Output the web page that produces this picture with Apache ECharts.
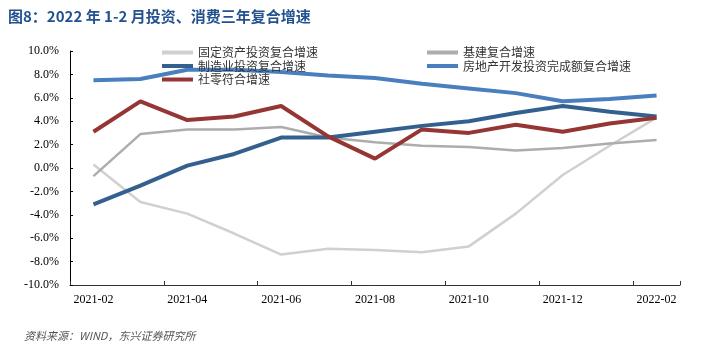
<!DOCTYPE html>
<html>
<head>
<meta charset="utf-8">
<script src="https://cdn.jsdelivr.net/npm/echarts@6/dist/echarts.min.js"></script>
<style>
  html, body { margin: 0; padding: 0; background: #fff; }
  #chart { width: 707px; height: 354px; }
</style>
</head>
<body>
<div id="chart"></div>
<script>
// 月份
const months = ['2021-02', '2021-03', '2021-04', '2021-05', '2021-06', '2021-07', '2021-08',
  '2021-09', '2021-10', '2021-11', '2021-12', '2022-01', '2022-02']
// 各项三年复合增速（%）
const fixedAsset = [0.3, -2.9, -3.9, -5.6, -7.4, -6.9, -7.0, -7.2, -6.7, -3.9, -0.6, 1.9, 4.3]
const infra = [-0.7, 2.9, 3.3, 3.3, 3.5, 2.6, 2.2, 1.9, 1.8, 1.5, 1.7, 2.1, 2.4]
const manufacturing = [-3.1, -1.5, 0.2, 1.2, 2.6, 2.6, 3.1, 3.6, 4.0, 4.7, 5.3, 4.8, 4.4]
const realEstate = [7.5, 7.6, 8.4, 8.4, 8.2, 7.9, 7.7, 7.2, 6.8, 6.4, 5.7, 5.9, 6.2]
const retail = [3.1, 5.7, 4.1, 4.4, 5.3, 2.7, 0.8, 3.3, 3.0, 3.7, 3.1, 3.8, 4.3]

const chart = echarts.init(document.getElementById('chart'))
const serifFont = '"Liberation Serif", "Times New Roman", serif'
const cjkFont = '"Noto Sans CJK SC", sans-serif'

const legendText = {
  color: '#333',
  fontFamily: cjkFont,
  fontSize: 12,
  lineHeight: 13
}

const option = {
  animation: false,
  title: [
    {
      text: '图8：2022 年 1-2 月投资、消费三年复合增速',
      left: 3,
      top: 4,
      textStyle: { color: '#24528f', fontSize: 15, fontWeight: 'bold', fontFamily: cjkFont }
    },
    {
      text: '资料来源：WIND，东兴证券研究所',
      left: 19,
      top: 325,
      textStyle: { color: '#555', fontSize: 11, fontStyle: 'italic', fontWeight: 'normal', fontFamily: cjkFont }
    }
  ],
  legend: [
    {
      data: ['固定资产投资复合增速', '制造业投资复合增速', '社零符合增速'],
      orient: 'vertical',
      left: 157,
      top: 41,
      icon: 'rect',
      itemWidth: 31,
      itemHeight: 4,
      itemGap: 0.5,
      textStyle: legendText
    },
    {
      data: ['基建复合增速', '房地产开发投资完成额复合增速'],
      orient: 'vertical',
      left: 422,
      top: 41,
      icon: 'rect',
      itemWidth: 31,
      itemHeight: 4,
      itemGap: 0.5,
      textStyle: legendText
    }
  ],
  grid: {
    left: 70,
    right: 27,
    top: 51,
    bottom: 69
  },
  xAxis: [
    {
      type: 'category',
      data: months,
      boundaryGap: true,
      axisLine: { show: false },
      axisTick: { show: false },
      axisLabel: {
        interval: 1,
        margin: 9,
        color: '#000',
        fontSize: 12,
        fontFamily: serifFont
      }
    },
    {
      // 零轴
      type: 'category',
      data: months,
      position: 'bottom',
      boundaryGap: true,
      axisLine: { onZero: true, lineStyle: { color: '#333', width: 1 } },
      axisTick: { show: true, inside: true, length: 4, interval: 1, lineStyle: { color: '#333' } },
      axisLabel: { show: false }
    }
  ],
  yAxis: {
    type: 'value',
    min: -10,
    max: 10,
    interval: 2,
    splitLine: { show: false },
    axisLine: { show: true, lineStyle: { color: '#000', width: 1 } },
    axisTick: { show: true, inside: true, length: 3, lineStyle: { color: '#000' } },
    axisLabel: {
      margin: 11,
      color: '#000',
      fontSize: 12,
      fontFamily: serifFont,
      formatter: (val) => val.toFixed(1) + '%'
    }
  },
  series: [
    {
      name: '固定资产投资复合增速',
      type: 'line',
      data: fixedAsset,
      symbol: 'none',
      color: '#d0d0d0',
      lineStyle: { width: 2.5 }
    },
    {
      name: '基建复合增速',
      type: 'line',
      data: infra,
      symbol: 'none',
      color: '#adadad',
      lineStyle: { width: 2.5 }
    },
    {
      name: '制造业投资复合增速',
      type: 'line',
      data: manufacturing,
      symbol: 'none',
      color: '#33608f',
      lineStyle: { width: 4 }
    },
    {
      name: '房地产开发投资完成额复合增速',
      type: 'line',
      data: realEstate,
      symbol: 'none',
      color: '#4a7fbf',
      lineStyle: { width: 4 }
    },
    {
      name: '社零符合增速',
      type: 'line',
      data: retail,
      symbol: 'none',
      color: '#953634',
      lineStyle: { width: 4 }
    }
  ]
}

chart.setOption(option)
</script>
</body>
</html>
